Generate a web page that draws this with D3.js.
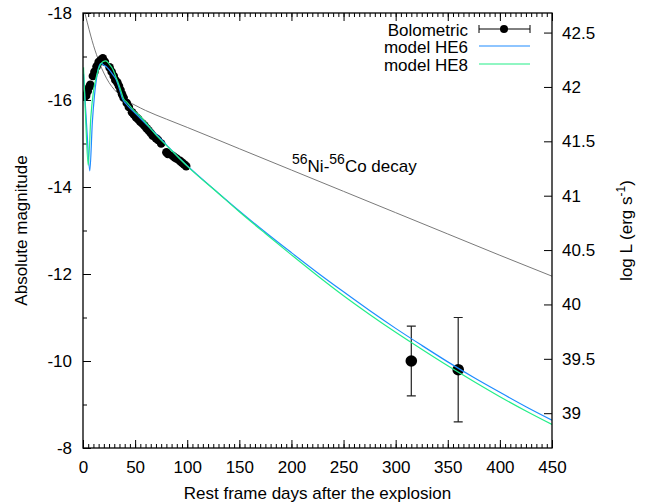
<!DOCTYPE html>
<html lang="en">
<head>
    <meta charset="UTF-8">
    <script src="https://d3js.org/d3.v7.min.js"></script>
    <title>Bolometric light curve</title>
    <style>
        body {
            margin: 0;
            background-color: #ffffff;
            font-family: "Liberation Sans", Arial, sans-serif;
        }
        svg text {
            font-family: "Liberation Sans", Arial, sans-serif;
            fill: #000;
        }
        .axis text {
            font-size: 17px;
        }
        .axis line {
            stroke: #000;
            stroke-width: 1;
        }
        .axis path {
            display: none;
        }
    </style>
</head>
<body>
    <svg id="chart" width="661" height="503"></svg>

    <script>
        // bolometric points, days 0-100
        const bolDays = [1.5, 3, 4.5, 6, 7, 9.5, 11, 13, 15, 17, 19, 21, 25.5, 27.5, 29.5, 31,
            33, 34.5, 36, 37.5, 39, 42, 44, 47, 49, 51, 53, 55, 57, 59, 61, 63, 65, 67,
            70, 72, 75, 80, 81.5, 86, 88, 90, 93, 95, 97, 99];
        const bolMag = [-16.08, -16.1, -16.2, -16.3, -16.35, -16.55, -16.65, -16.77, -16.87,
            -16.92, -16.96, -16.88, -16.75, -16.65, -16.55, -16.46, -16.4, -16.32, -16.23,
            -16.13, -16.05, -15.93, -15.84, -15.72, -15.66, -15.6, -15.56, -15.5, -15.46,
            -15.41, -15.35, -15.3, -15.24, -15.18, -15.12, -15.08, -15.0, -14.8, -14.76,
            -14.72, -14.68, -14.65, -14.6, -14.56, -14.52, -14.48];

        // late points with error bars
        const lateDays = [315, 360];
        const lateMag = [-10.0, -9.8];
        const lateErrHigh = [-10.8, -11.0];
        const lateErrLow = [-9.2, -8.6];

        // model HE6
        const he6Days = [0.5, 2, 4, 6.5, 9, 11, 13, 15, 17.5, 20, 23, 26, 29, 32, 35, 38, 41,
            44, 50, 60, 70, 80, 90, 100, 130, 150, 175, 200, 225, 250, 275, 300, 325, 350,
            375, 400, 425, 450];
        const he6Mag = [-16.6, -16.0, -15.2, -14.37, -15.5, -16.1, -16.5, -16.75, -16.84,
            -16.8, -16.75, -16.67, -16.57, -16.46, -16.25, -16.02, -15.92, -15.84, -15.7,
            -15.46, -15.22, -14.97, -14.72, -14.49, -13.86, -13.45, -12.96, -12.49, -12.03,
            -11.59, -11.16, -10.75, -10.36, -9.98, -9.62, -9.28, -8.95, -8.64];

        // model HE8
        const he8Days = [0.5, 2.5, 5, 7.5, 10, 13, 16, 19, 22, 25, 29, 32, 34, 36.5, 38.7, 42,
            48, 55, 70, 85, 100, 130, 150, 175, 200, 225, 250, 275, 300, 325, 350, 375, 400,
            425, 450];
        const he8Mag = [-16.75, -15.6, -14.5, -15.6, -16.2, -16.55, -16.78, -16.88, -16.9,
            -16.83, -16.69, -16.5, -16.38, -16.2, -16.04, -15.95, -15.78, -15.62, -15.2,
            -14.84, -14.48, -13.85, -13.43, -12.93, -12.44, -11.96, -11.5, -11.07, -10.66,
            -10.27, -9.89, -9.53, -9.18, -8.85, -8.54];

        // 56Ni-56Co decay line
        const decayDays = [0, 2, 4, 7.5, 10, 13, 16, 20, 25, 30, 35, 40, 50, 60, 80, 100,
            150, 200, 250, 300, 350, 400, 450];
        const decayMag = [-18.2, -17.98, -17.79, -17.47, -17.26, -17.04, -16.84, -16.62,
            -16.4, -16.24, -16.12, -16.02, -15.88, -15.76, -15.56, -15.37, -14.88, -14.39,
            -13.9, -13.41, -12.92, -12.43, -11.95];

        const xTicks = [0, 50, 100, 150, 200, 250, 300, 350, 400, 450];
        const yTicks = [-18, -16, -14, -12, -10, -8];
        const y2Ticks = [39, 39.5, 40, 40.5, 41, 41.5, 42, 42.5];

        const plotLeft = 83, plotRight = 552, plotTop = 13, plotBottom = 448;
        // M_bol = 88.7 - 2.5 log L
        const magZero = 88.7;

        const svg = d3.select("#chart");

        const x = d3.scaleLinear().domain([0, 450]).range([plotLeft, plotRight]);
        const y = d3.scaleLinear().domain([-18, -8]).range([plotTop, plotBottom]);
        const y2 = d3.scaleLinear()
            .domain([(magZero + 18) / 2.5, (magZero + 8) / 2.5])
            .range([plotTop, plotBottom]);

        svg.append("clipPath").attr("id", "plotClip")
            .append("rect")
            .attr("x", plotLeft).attr("y", plotTop)
            .attr("width", plotRight - plotLeft).attr("height", plotBottom - plotTop);

        // axes
        const fmt = d => String(d);
        svg.append("g").attr("class", "axis")
            .attr("transform", `translate(0,${plotBottom})`)
            .call(d3.axisBottom(x).tickValues(xTicks).tickSize(-8).tickPadding(13).tickFormat(fmt));
        svg.append("g").attr("class", "axis")
            .attr("transform", `translate(0,${plotBottom})`)
            .call(d3.axisBottom(x).tickValues(d3.range(0, 451, 5)).tickSize(-4).tickFormat(""));
        svg.append("g").attr("class", "axis")
            .attr("transform", `translate(0,${plotTop})`)
            .call(d3.axisTop(x).tickValues(xTicks).tickSize(-8).tickFormat(""));
        svg.append("g").attr("class", "axis")
            .attr("transform", `translate(0,${plotTop})`)
            .call(d3.axisTop(x).tickValues(d3.range(0, 451, 5)).tickSize(-4).tickFormat(""));
        svg.append("g").attr("class", "axis")
            .attr("transform", `translate(${plotLeft},0)`)
            .call(d3.axisLeft(y).tickValues(yTicks).tickSize(-8).tickPadding(11).tickFormat(fmt));
        svg.append("g").attr("class", "axis")
            .attr("transform", `translate(${plotLeft},0)`)
            .call(d3.axisLeft(y).tickValues([-17, -15, -13, -11, -9]).tickSize(-4).tickFormat(""));
        svg.append("g").attr("class", "axis")
            .attr("transform", `translate(${plotRight},0)`)
            .call(d3.axisRight(y2).tickValues(y2Ticks).tickSize(-8).tickPadding(10).tickFormat(fmt));

        const plot = svg.append("g").attr("clip-path", "url(#plotClip)");

        const line = d3.line()
            .x(d => x(d[0]))
            .y(d => y(d[1]))
            .curve(d3.curveMonotoneX);

        plot.append("path")
            .datum(d3.zip(decayDays, decayMag))
            .attr("d", line)
            .attr("fill", "none")
            .attr("stroke", "#7a7a7a")
            .attr("stroke-width", 1);

        // bolometric points
        plot.selectAll(".bol")
            .data(d3.zip(bolDays, bolMag))
            .enter().append("circle")
            .attr("cx", d => x(d[0]))
            .attr("cy", d => y(d[1]))
            .attr("r", 4.3)
            .attr("fill", "#000");

        const late = d3.zip(lateDays, lateMag, lateErrHigh, lateErrLow);
        plot.selectAll(".errbar")
            .data(late)
            .enter().append("path")
            .attr("d", d => `M${x(d[0])},${y(d[2])}V${y(d[3])}` +
                `M${x(d[0]) - 4.5},${y(d[2])}h9M${x(d[0]) - 4.5},${y(d[3])}h9`)
            .attr("stroke", "#222")
            .attr("stroke-width", 1.2)
            .attr("fill", "none");
        plot.selectAll(".late")
            .data(late)
            .enter().append("circle")
            .attr("cx", d => x(d[0]))
            .attr("cy", d => y(d[1]))
            .attr("r", 5.8)
            .attr("fill", "#000");

        plot.append("path")
            .datum(d3.zip(he6Days, he6Mag))
            .attr("d", line)
            .attr("fill", "none")
            .attr("stroke", "#1e8cff")
            .attr("stroke-width", 1.2);

        plot.append("path")
            .datum(d3.zip(he8Days, he8Mag))
            .attr("d", line)
            .attr("fill", "none")
            .attr("stroke", "#22ee88")
            .attr("stroke-width", 1.2);

        // frame
        svg.append("rect")
            .attr("x", plotLeft).attr("y", plotTop)
            .attr("width", plotRight - plotLeft).attr("height", plotBottom - plotTop)
            .attr("fill", "none")
            .attr("stroke", "#000")
            .attr("stroke-width", 1.3);

        // legend
        const legend = svg.append("g").style("font-size", "17px");
        legend.append("text").attr("x", 468).attr("y", 36).attr("text-anchor", "end").text("Bolometric");
        legend.append("text").attr("x", 468).attr("y", 53).attr("text-anchor", "end").text("model HE6");
        legend.append("text").attr("x", 468).attr("y", 70.5).attr("text-anchor", "end").text("model HE8");
        legend.append("path")
            .attr("d", "M479,29H530M479,25V33M530,25V33")
            .attr("stroke", "#000").attr("stroke-width", 1);
        legend.append("circle").attr("cx", 504).attr("cy", 29).attr("r", 4).attr("fill", "#000");
        legend.append("line").attr("x1", 479).attr("x2", 530).attr("y1", 46).attr("y2", 46)
            .attr("stroke", "#1e8cff").attr("stroke-width", 1.2);
        legend.append("line").attr("x1", 479).attr("x2", 530).attr("y1", 64).attr("y2", 64)
            .attr("stroke", "#22ee88").attr("stroke-width", 1.2);

        // decay label
        const decayLabel = svg.append("text").attr("x", 292).attr("y", 172).style("font-size", "17px");
        decayLabel.append("tspan").attr("dy", -8).style("font-size", "14px").text("56");
        decayLabel.append("tspan").attr("dy", 8).text("Ni-");
        decayLabel.append("tspan").attr("dy", -8).style("font-size", "14px").text("56");
        decayLabel.append("tspan").attr("dy", 8).text("Co decay");

        // axis titles
        svg.append("text")
            .attr("x", (plotLeft + plotRight) / 2).attr("y", 499)
            .attr("text-anchor", "middle")
            .style("font-size", "17px")
            .text("Rest frame days after the explosion");
        svg.append("text")
            .attr("transform", `translate(27,${(plotTop + plotBottom) / 2}) rotate(-90)`)
            .attr("text-anchor", "middle")
            .style("font-size", "17px")
            .text("Absolute magnitude");
        const y2Title = svg.append("text")
            .attr("transform", `translate(632,${(plotTop + plotBottom) / 2}) rotate(-90)`)
            .attr("text-anchor", "middle")
            .style("font-size", "17px");
        y2Title.append("tspan").text("log L (erg s");
        y2Title.append("tspan").attr("dy", -7).style("font-size", "12px").text("-1");
        y2Title.append("tspan").attr("dy", 7).text(")");
    </script>
</body>
</html>
